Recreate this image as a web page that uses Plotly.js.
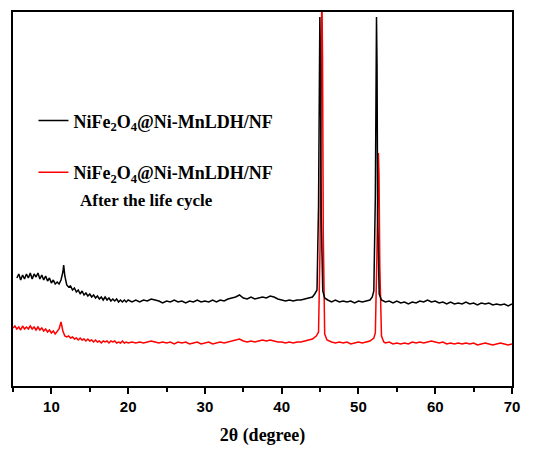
<!DOCTYPE html>
<html>
<head>
<meta charset="utf-8">
<script src="https://cdn.plot.ly/plotly-3.0.1.min.js"></script>
<style>html,body{margin:0;padding:0;background:#fff;}#chart{width:533px;height:450px;}</style>
</head>
<body>
<div id="chart"></div>
<script>
// 2θ positions (degree) and intensities (arbitrary, offset)
const blackX = [5.5,5.75,6,6.25,6.5,6.75,7,7.25,7.5,7.75,8,8.25,8.5,8.75,9,9.25,9.5,9.75,10,10.25,10.5,10.75,11,11.25,11.5,11.6,11.75,12,12.25,12.5,12.75,13,13.25,13.5,13.75,14,14.25,14.5,14.75,15,15.25,15.5,15.75,16,16.25,16.5,16.75,17,17.25,17.5,17.75,18,18.25,18.5,18.75,19,19.25,19.5,19.75,20,
20.5,21,21.5,22,22.5,23,23.5,24,24.5,25,25.5,26,26.5,27,27.5,28,28.5,29,29.5,30,30.5,31,31.5,32,32.5,33,33.5,34,34.5,35,35.5,36,36.5,37,37.5,38,38.5,39,39.5,40,40.5,41,41.5,42,42.5,43,43.5,44,44.3,44.6,44.8,44.9,44.97,45.05,45.15,45.35,45.6,46,46.5,47,47.5,48,48.5,49,49.5,50,50.5,51,51.5,51.8,52,52.2,52.28,52.35,52.42,52.5,52.7,53,53.5,54,54.5,55,55.5,56,56.5,57,57.5,58,58.5,59,59.5,60,60.5,61,61.5,62,62.5,63,63.5,64,64.5,65,65.5,66,66.5,67,67.5,68,68.5,69,69.5,70];
const blackY = [108,112,106,111,107,112,108,113,107,112,109,113,107,111,106,110,105,108,103,106,102,104,102,106,114,121,110,101,99,100,96,98,94,96,92,95,91,93,90,92,89,91,88,90,87,89,86,89,86,88,85,87,85,87,84,86,84,86,84,86,
84,86,84,86,85,87,86,85,83,85,84,86,84,85,83,85,84,86,84,85,84,86,84,86,85,87,88,89,91,88,87,89,87,88,89,88,90,89,87,86,85,86,85,86,86,87,88,89,92,96,180,330,369,320,170,95,88,86,84,86,84,85,84,85,83,85,84,85,86,89,95,190,330,369,320,170,92,86,84,85,83,85,83,84,82,84,83,85,84,86,84,85,83,84,82,84,82,83,82,84,82,83,81,83,82,83,81,82,81,82,80,82];

const redX = [5,5.25,5.5,5.75,6,6.25,6.5,6.75,7,7.25,7.5,7.75,8,8.25,8.5,8.75,9,9.25,9.5,9.75,10,10.25,10.5,10.75,11,11.25,11.5,11.75,12,12.25,12.5,12.75,13,13.25,13.5,13.75,14,14.25,14.5,14.75,15,15.25,15.5,15.75,16,16.25,16.5,16.75,17,17.25,17.5,17.75,18,18.25,18.5,18.75,19,19.25,19.5,19.75,20,
20.5,21,21.5,22,22.5,23,23.5,24,24.5,25,25.5,26,26.5,27,27.5,28,28.5,29,29.5,30,30.5,31,31.5,32,32.5,33,33.5,34,34.5,35,35.5,36,36.5,37,37.5,38,38.5,39,39.5,40,40.5,41,41.5,42,42.5,43,43.5,44,44.5,44.8,45,45.12,45.23,45.32,45.42,45.6,45.9,46.5,47,47.5,48,48.5,49,49.5,50,50.5,51,51.5,52,52.2,52.4,52.52,52.6,52.68,52.78,53,53.3,53.5,54,54.5,55,55.5,56,56.5,57,57.5,58,58.5,59,59.5,60,60.5,61,61.5,62,62.5,63,63.5,64,64.5,65,65.5,66,66.5,67,67.5,68,68.5,69,69.5,70];
const redY = [58,60,57,59,56,60,57,59,57,60,57,59,56,59,56,58,55,57,54,56,53,55,52,54,57,64,55,50,49,50,48,49,47,48,46,48,46,47,45,47,45,46,44,46,44,45,43,45,44,45,43,45,44,45,43,44,43,45,43,44,43,
44,43,44,43,44,45,44,43,44,43,44,42,44,43,44,42,43,44,42,43,44,42,43,44,43,44,45,46,47,45,44,45,44,45,46,45,46,45,44,44,43,44,43,44,44,45,46,47,50,54,140,330,400,330,150,52,46,44,43,44,43,44,42,43,44,43,44,45,48,53,130,215,233,210,120,50,44,43,44,42,43,42,43,42,44,43,44,43,44,45,44,43,44,42,43,42,43,42,43,42,43,41,42,43,42,41,42,43,42,41,42];

const blackName = 'NiFe<sub>2</sub>O<sub>4</sub>@Ni-MnLDH/NF';
const redName = 'NiFe<sub>2</sub>O<sub>4</sub>@Ni-MnLDH/NF';
const redNote = 'After the life cycle';
const xTickVals = [10,20,30,40,50,60,70];

const serif = 'Liberation Serif, Times New Roman, serif';
const sans = 'Liberation Sans, Arial, sans-serif';

const traces = [
  {x: redX, y: redY, type: 'scatter', mode: 'lines', name: redName,
   line: {color: '#ff0000', width: 1.5}, legend: 'legend2'},
  {x: blackX, y: blackY, type: 'scatter', mode: 'lines', name: blackName,
   line: {color: '#000000', width: 1.5}, legend: 'legend'}
];

const legendFont = {family: serif, size: 18, color: '#000', weight: 'bold'};

const layout = {
  width: 533, height: 450,
  margin: {l: 13, r: 21, t: 12, b: 64},
  paper_bgcolor: '#fff', plot_bgcolor: '#fff',
  showlegend: true,
  legend: {x: 0.041, y: 0.709, xanchor: 'left', yanchor: 'middle',
    bgcolor: 'rgba(0,0,0,0)', borderwidth: 0, font: legendFont},
  legend2: {x: 0.041, y: 0.571, xanchor: 'left', yanchor: 'middle',
    bgcolor: 'rgba(0,0,0,0)', borderwidth: 0, font: legendFont},
  annotations: [
    {text: redNote, xref: 'paper', yref: 'paper', x: 0.13, y: 0.495,
     xanchor: 'left', yanchor: 'middle', showarrow: false,
     font: {family: serif, size: 17, color: '#000', weight: 'bold'}}
  ],
  xaxis: {
    range: [5, 70], tickvals: xTickVals, ticktext: xTickVals.map(String),
    ticks: 'outside', ticklen: 6, tickwidth: 2, tickcolor: '#000',
    minor: {dtick: 5, tick0: 5, ticks: 'outside', ticklen: 4, tickwidth: 2, tickcolor: '#000'},
    showline: true, linewidth: 2, linecolor: '#000', mirror: true,
    showgrid: false, zeroline: false,
    tickfont: {family: sans, size: 15, color: '#000', weight: 'bold'},
    title: {text: '2θ (degree)', font: {family: serif, size: 18, color: '#000', weight: 'bold'}, standoff: 14}
  },
  yaxis: {
    range: [0, 374], showticklabels: false, ticks: '',
    showline: true, linewidth: 2, linecolor: '#000', mirror: true,
    showgrid: false, zeroline: false
  }
};

Plotly.newPlot('chart', traces, layout, {displayModeBar: false, staticPlot: true});
</script>
</body>
</html>
